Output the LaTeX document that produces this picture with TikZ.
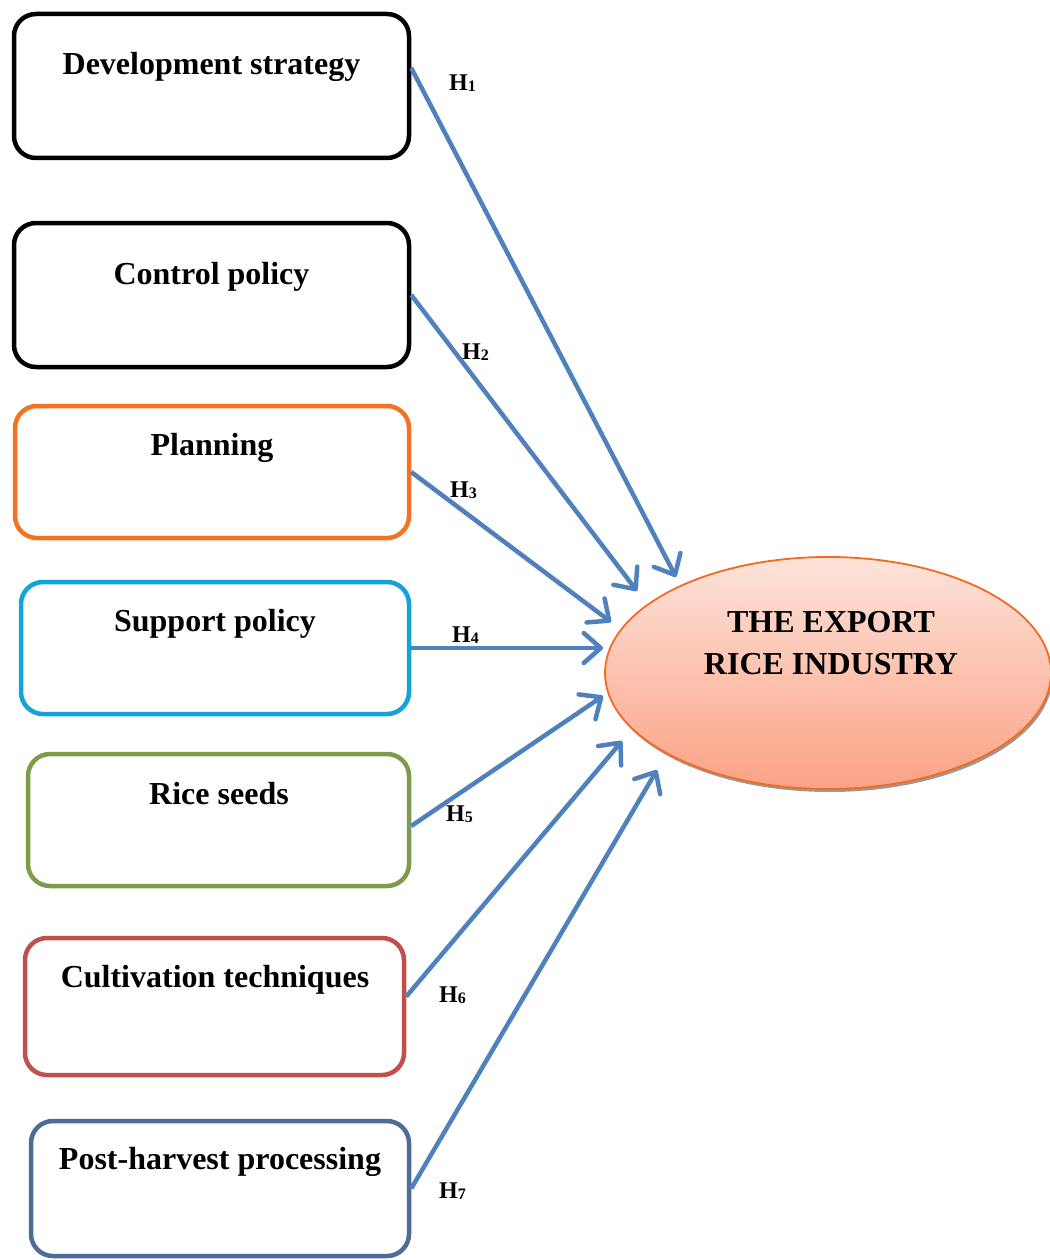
\documentclass[tikz,border=0pt]{standalone}
\usepackage{fontspec}
\setmainfont{Liberation Serif}
\usetikzlibrary{arrows.meta,shapes.geometric,shadows}
\definecolor{arrblue}{HTML}{4F81BD}
\definecolor{c3}{HTML}{F47321}
\definecolor{c4}{HTML}{12A3DA}
\definecolor{c5}{HTML}{7E9B4C}
\definecolor{c6}{HTML}{C0504D}
\definecolor{c7}{HTML}{4D6C9A}
\definecolor{ellborder}{HTML}{F26B21}
\definecolor{elltop}{HTML}{FDE3DA}
\definecolor{ellbot}{HTML}{FBA285}
\tikzset{
  boxnode/.style={draw=#1, line width=4.5pt, rounded corners=22pt, rectangle, inner sep=0pt, fill=white},
  boxtext/.style={anchor=base, inner sep=0pt, font=\bfseries\fontsize{32}{38}\selectfont},
  hlabel/.style={anchor=base west, inner sep=0pt, font=\bfseries\fontsize{24}{28}\selectfont},
  arr/.style={draw=arrblue, line width=4.5pt, -{Straight Barb[length=17pt, width=30pt, line width=4.5pt, round]}},
}
\newcommand{\hsub}[1]{H{\fontsize{16}{16}\selectfont\raisebox{-1pt}{#1}}}
\begin{document}
\begin{tikzpicture}[x=1pt, y=-1pt]
\useasboundingbox (0,0) rectangle (1049,1260);
% boxes
\node[boxnode=black, minimum width=395pt, minimum height=144pt] (b1) at (211.5,86) {};
\node[boxnode=black, minimum width=395pt, minimum height=144pt] (b2) at (211.5,295) {};
\node[boxnode=c3, minimum width=394pt, minimum height=132pt] (b3) at (212,472) {};
\node[boxnode=c4, minimum width=388pt, minimum height=132pt] (b4) at (215,648) {};
\node[boxnode=c5, minimum width=381pt, minimum height=132pt] (b5) at (218.5,820) {};
\node[boxnode=c6, minimum width=379pt, minimum height=137pt] (b6) at (214.5,1006.5) {};
\node[boxnode=c7, minimum width=378pt, minimum height=135pt] (b7) at (220,1188.5) {};
% box texts
\node[boxtext] (t1) at (211.5,75) {Development strategy};
\node[boxtext] (t2) at (211.5,284) {Control policy};
\node[boxtext] (t3) at (212,455) {Planning};
\node[boxtext] (t4) at (215,631) {Support policy};
\node[boxtext] (t5) at (219,804) {Rice seeds};
\node[boxtext] (t6) at (215,987) {Cultivation techniques};
\node[boxtext] (t7) at (220,1169) {Post-harvest processing};
% ellipse
\node[ellipse, draw=ellborder, line width=1.8pt, top color=elltop, bottom color=ellbot,
      minimum width=446pt, minimum height=232pt,
      drop shadow={shadow xshift=1.5pt, shadow yshift=-3pt, fill=gray!80, opacity=1}] (E) at (828,673) {};
\node[boxtext] (et1) at (831,632) {THE EXPORT};
\node[boxtext] (et2) at (831,674) {RICE INDUSTRY};
% arrow end points
\coordinate (e1) at (676,577);
\coordinate (e2) at (637,591);
\coordinate (e3) at (611,622);
\coordinate (e4) at (603,648);
\coordinate (e5) at (603,696);
\coordinate (e6) at (622,741);
\coordinate (e7) at (657,770);
% arrows
\draw[arr] ([yshift=18pt]b1.east) -- (e1);
\draw[arr] (b2.east) -- (e2);
\draw[arr] (b3.east) -- (e3);
\draw[arr] (b4.east) -- (e4);
\draw[arr] ([yshift=-6pt]b5.east) -- (e5);
\draw[arr] ([yshift=10pt]b6.east) -- (e6);
\draw[arr] (b7.east) -- (e7);
% labels
\node[hlabel] (h1) at (449,91) {\hsub{1}};
\node[hlabel] (h2) at (462,359) {\hsub{2}};
\node[hlabel] (h3) at (450,497) {\hsub{3}};
\node[hlabel] (h4) at (452,642) {\hsub{4}};
\node[hlabel] (h5) at (446,821) {\hsub{5}};
\node[hlabel] (h6) at (439,1002) {\hsub{6}};
\node[hlabel] (h7) at (439,1198) {\hsub{7}};
\end{tikzpicture}
\end{document}
